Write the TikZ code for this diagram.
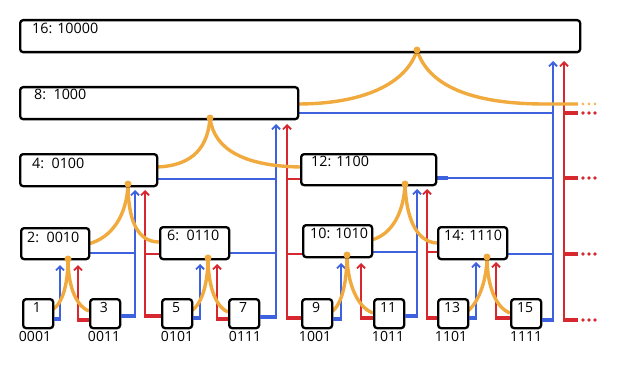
\documentclass[tikz,border=0pt]{standalone}
\usepackage{fontspec}
\setmainfont{Open Sans}
\usetikzlibrary{arrows.meta}
\definecolor{wblue}{RGB}{62,98,222}
\definecolor{wred}{RGB}{214,40,46}
\definecolor{worange}{RGB}{240,170,62}
\begin{document}
\begin{tikzpicture}[x=1pt,y=-1pt,
 box/.style={draw=black, line width=2.3pt, rounded corners=3pt, fill=white, anchor=north west, inner sep=0pt},
 txt/.style={font=\fontsize{14.3}{16}\selectfont, inner sep=0pt, anchor=base west},
 ltxt/.style={font=\fontsize{14}{16}\selectfont, inner sep=0pt, anchor=base},
 bw/.style={draw=wblue, line width=1.8pt},
 rw/.style={draw=wred, line width=1.8pt},
 bstub/.style={draw=wblue, line width=4pt},
 rstub/.style={draw=wred, line width=4pt},
 up/.style={-{Straight Barb[length=4pt,width=8pt]}},
 og/.style={draw=worange, line width=3.4pt},
 odot/.style={circle, fill=worange, inner sep=0pt, minimum size=7pt},
 rdot/.style={circle, fill=wred, inner sep=0pt, minimum size=3.6pt},
 ldot/.style={circle, fill=worange!80, inner sep=0pt, minimum size=3.4pt},
]
\useasboundingbox (0,0) rectangle (617,374);

% ---------------- blue wires ----------------
\draw[bw, up] (60,319) -- (60,265);
\draw[bw, up] (135,317) -- (135,190);
\draw[bw, up] (200,318) -- (200,264);
\draw[bw, up] (276,318) -- (276,124);
\draw[bw, up] (341,319) -- (341,263);
\draw[bw, up] (417,317) -- (417,189);
\draw[bw, up] (476,318) -- (476,262);
\draw[bw, up] (553,321) -- (553,61);
\draw[bw] (88,253) -- (135,253);
\draw[bw] (156,179) -- (276,179);
\draw[bw] (228,253) -- (276,253);
\draw[bw] (297,113) -- (553,113);
\draw[bw] (371,252) -- (417,252);
\draw[bw] (435,178) -- (553,178);
\draw[bstub] (435,178) -- (448,178);
\draw[bw] (506,254) -- (553,254);

% ---------------- red wires ----------------
\draw[rw, up] (78,320) -- (78,265);
\draw[rw, up] (145,317) -- (145,190);
\draw[rw, up] (217,319) -- (217,264);
\draw[rw, up] (287,318) -- (287,124);
\draw[rw, up] (361,318) -- (361,263);
\draw[rw, up] (427,318) -- (427,189);
\draw[rw, up] (496,318) -- (496,262);
\draw[rw, up] (564,321) -- (564,61);
\draw[rw] (145,254) -- (159,254);
\draw[rw] (287,179) -- (300,179);
\draw[rw] (287,254) -- (302,254);
\draw[rw] (427,252) -- (437,252);
\foreach \yy in {113,178,254,320}{
  \draw[rstub] (563,\yy) -- (578,\yy);
  \node[rdot] (rd1\yy) at (583,\yy) {};
  \node[rdot] (rd2\yy) at (589,\yy) {};
  \node[rdot] (rd3\yy) at (595,\yy) {};
}

% ---------------- orange tree ----------------
\draw[og] (297,104) .. controls (370,104) and (408,80) .. (417,50);
\draw[og] (417,50) .. controls (428,85) and (470,104) .. (545,104) -- (578,104);
\node[ldot] (od1) at (583,104) {};
\node[ldot] (od2) at (589,104) {};
\node[ldot] (od3) at (595,104) {};

\draw[og] (156,167) .. controls (195,166) and (208,145) .. (210,118);
\draw[og] (210,118) .. controls (214,150) and (245,166) .. (300,167);

\draw[og] (88,244) .. controls (112,238) and (127,215) .. (128,184);
\draw[og] (128,184) .. controls (128,215) and (135,242) .. (159,242);

\draw[og] (371,240) .. controls (392,235) and (404,212) .. (405,184);
\draw[og] (405,184) .. controls (406,215) and (415,242) .. (437,243);

\draw[og] (52,310) .. controls (64,303) and (68,280) .. (68,259);
\draw[og] (68,259) .. controls (68,282) and (74,305) .. (89,311);
\draw[og] (191,311) .. controls (203,304) and (208,280) .. (208,258);
\draw[og] (208,258) .. controls (208,282) and (214,306) .. (228,312);
\draw[og] (331,312) .. controls (343,305) and (347,278) .. (347,255);
\draw[og] (347,255) .. controls (347,280) and (356,307) .. (373,313);
\draw[og] (466,312) .. controls (478,305) and (487,280) .. (487,257);
\draw[og] (487,257) .. controls (487,282) and (494,307) .. (510,313);

% ---------------- inner boxes ----------------
\node[box, minimum width=560pt, minimum height=32pt] (b16) at (19,19) {};
\node[txt] (t16) at (32,34) {16: 10000};
\node[box, minimum width=278pt, minimum height=32pt] (b8) at (19,86) {};
\node[txt] (t8) at (34,100) {8:~~1000};
\node[box, minimum width=137pt, minimum height=32pt] (b4) at (19,153) {};
\node[txt] (t4) at (32,168) {4:~~0100};
\node[box, minimum width=135pt, minimum height=31pt] (b12) at (300,153) {};
\node[txt] (t12) at (311,166) {12: 1100};
\node[box, minimum width=68pt, minimum height=31pt] (b2) at (20,227) {};
\node[txt] (t2) at (27,242) {2:~~0010};
\node[box, minimum width=69pt, minimum height=32pt] (b6) at (159,226) {};
\node[txt] (t6) at (167,240) {6:~~0110};
\node[box, minimum width=69pt, minimum height=32pt] (b10) at (302,224) {};
\node[txt] (t10) at (310,238) {10: 1010};
\node[box, minimum width=69pt, minimum height=32pt] (b14) at (437,226) {};
\node[txt] (t14) at (444,240) {14: 1110};

% ---------------- leaves ----------------
\foreach \n/\x/\lab/\lx in {1/22/0001/35, 3/89/0011/104, 5/161/0101/177, 7/228/0111/245, 9/301/1001/315, 11/373/1011/388, 13/437/1101/451, 15/510/1111/526}{
  \node[box, minimum width=30pt, minimum height=29pt] (b\n) at (\x,298) {};
  \node[ltxt] (n\n) at (\x+15,312) {\n};
  \node[ltxt] (l\n) at (\lx,341) {\lab};
}
% leaf stubs
\draw[bstub] (b1.east |- 0,319) -- (61,319);
\draw[bstub] (b3.east |- 0,316) -- (136,316);
\draw[bstub] (b5.east |- 0,318) -- (201,318);
\draw[bstub] (b7.east |- 0,317) -- (277,317);
\draw[bstub] (b9.east |- 0,319) -- (342,319);
\draw[bstub] (b11.east |- 0,316) -- (418,316);
\draw[bstub] (b13.east |- 0,318) -- (477,318);
\draw[bstub] (b15.east |- 0,320) -- (554,320);
\draw[rstub] (77,320) -- (b3.west |- 0,320);
\draw[rstub] (144,316) -- (b5.west |- 0,316);
\draw[rstub] (216,319) -- (b7.west |- 0,319);
\draw[rstub] (286,318) -- (b9.west |- 0,318);
\draw[rstub] (360,318) -- (b11.west |- 0,318);
\draw[rstub] (426,318) -- (b13.west |- 0,318);
\draw[rstub] (495,318) -- (b15.west |- 0,318);

% ---------------- junction dots ----------------
\node[odot] (j16) at (417,50) {};
\node[odot] (j8) at (210,118) {};
\node[odot] (j4) at (128,184) {};
\node[odot] (j12) at (405,184) {};
\node[odot] (j2) at (68,259) {};
\node[odot] (j6) at (208,258) {};
\node[odot] (j10) at (347,255) {};
\node[odot] (j14) at (487,257) {};
\end{tikzpicture}
\end{document}
